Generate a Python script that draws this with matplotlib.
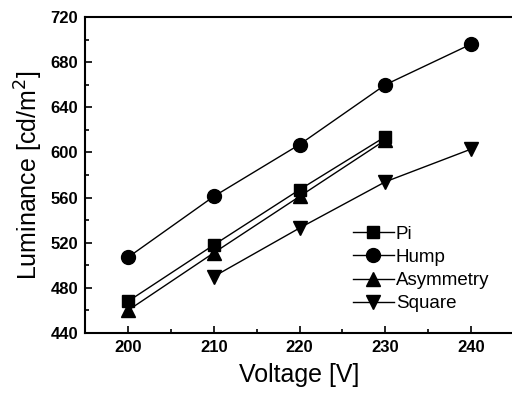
import matplotlib.pyplot as plt
from matplotlib.ticker import MultipleLocator

plt.rcParams['font.family'] = ['Liberation Sans', 'DejaVu Sans']

volt_pi = [200, 210, 220, 230]
lum_pi = [468, 518, 567, 614]
volt_hump = [200, 210, 220, 230, 240]
lum_hump = [507, 561, 607, 660, 696]
volt_asym = [200, 210, 220, 230]
lum_asym = [460, 511, 561, 611]
volt_square = [210, 220, 230, 240]
lum_square = [490, 533, 574, 603]

fig = plt.figure(figsize=(5.12, 3.96), dpi=100)
ax = fig.add_axes([0.166, 0.159, 0.838, 0.798])

ax.plot(volt_pi, lum_pi, 'k-', marker='s', ms=9, lw=1.0, label='Pi')
ax.plot(volt_hump, lum_hump, 'k-', marker='o', ms=10, lw=1.0, label='Hump')
ax.plot(volt_asym, lum_asym, 'k-', marker='^', ms=10, lw=1.0, label='Asymmetry')
ax.plot(volt_square, lum_square, 'k-', marker='v', ms=10, lw=1.0, label='Square')

ax.set_xlim(195, 245)
ax.set_ylim(440, 720)
ax.xaxis.set_major_locator(MultipleLocator(10))
ax.xaxis.set_minor_locator(MultipleLocator(5))
ax.yaxis.set_major_locator(MultipleLocator(40))
ax.yaxis.set_minor_locator(MultipleLocator(20))
ax.tick_params(which='both', direction='in', width=1.2)
ax.tick_params(which='major', length=5, labelsize=12, pad=5)
ax.tick_params(which='minor', length=3)
for lab in ax.get_xticklabels() + ax.get_yticklabels():
    lab.set_fontweight('bold')
for s in ax.spines.values():
    s.set_linewidth(1.5)

ax.set_xlabel('Voltage [V]', fontsize=18, labelpad=6)
ax.set_ylabel('Luminance [cd/m$^2$]', fontsize=18, labelpad=4)

ax.legend(loc='lower right', bbox_to_anchor=(0.96, 0.042), frameon=False,
          fontsize=13.5, handlelength=2.2, handletextpad=0.1, labelspacing=0.32,
          borderaxespad=0)

fig.savefig('out.png', dpi=100)
